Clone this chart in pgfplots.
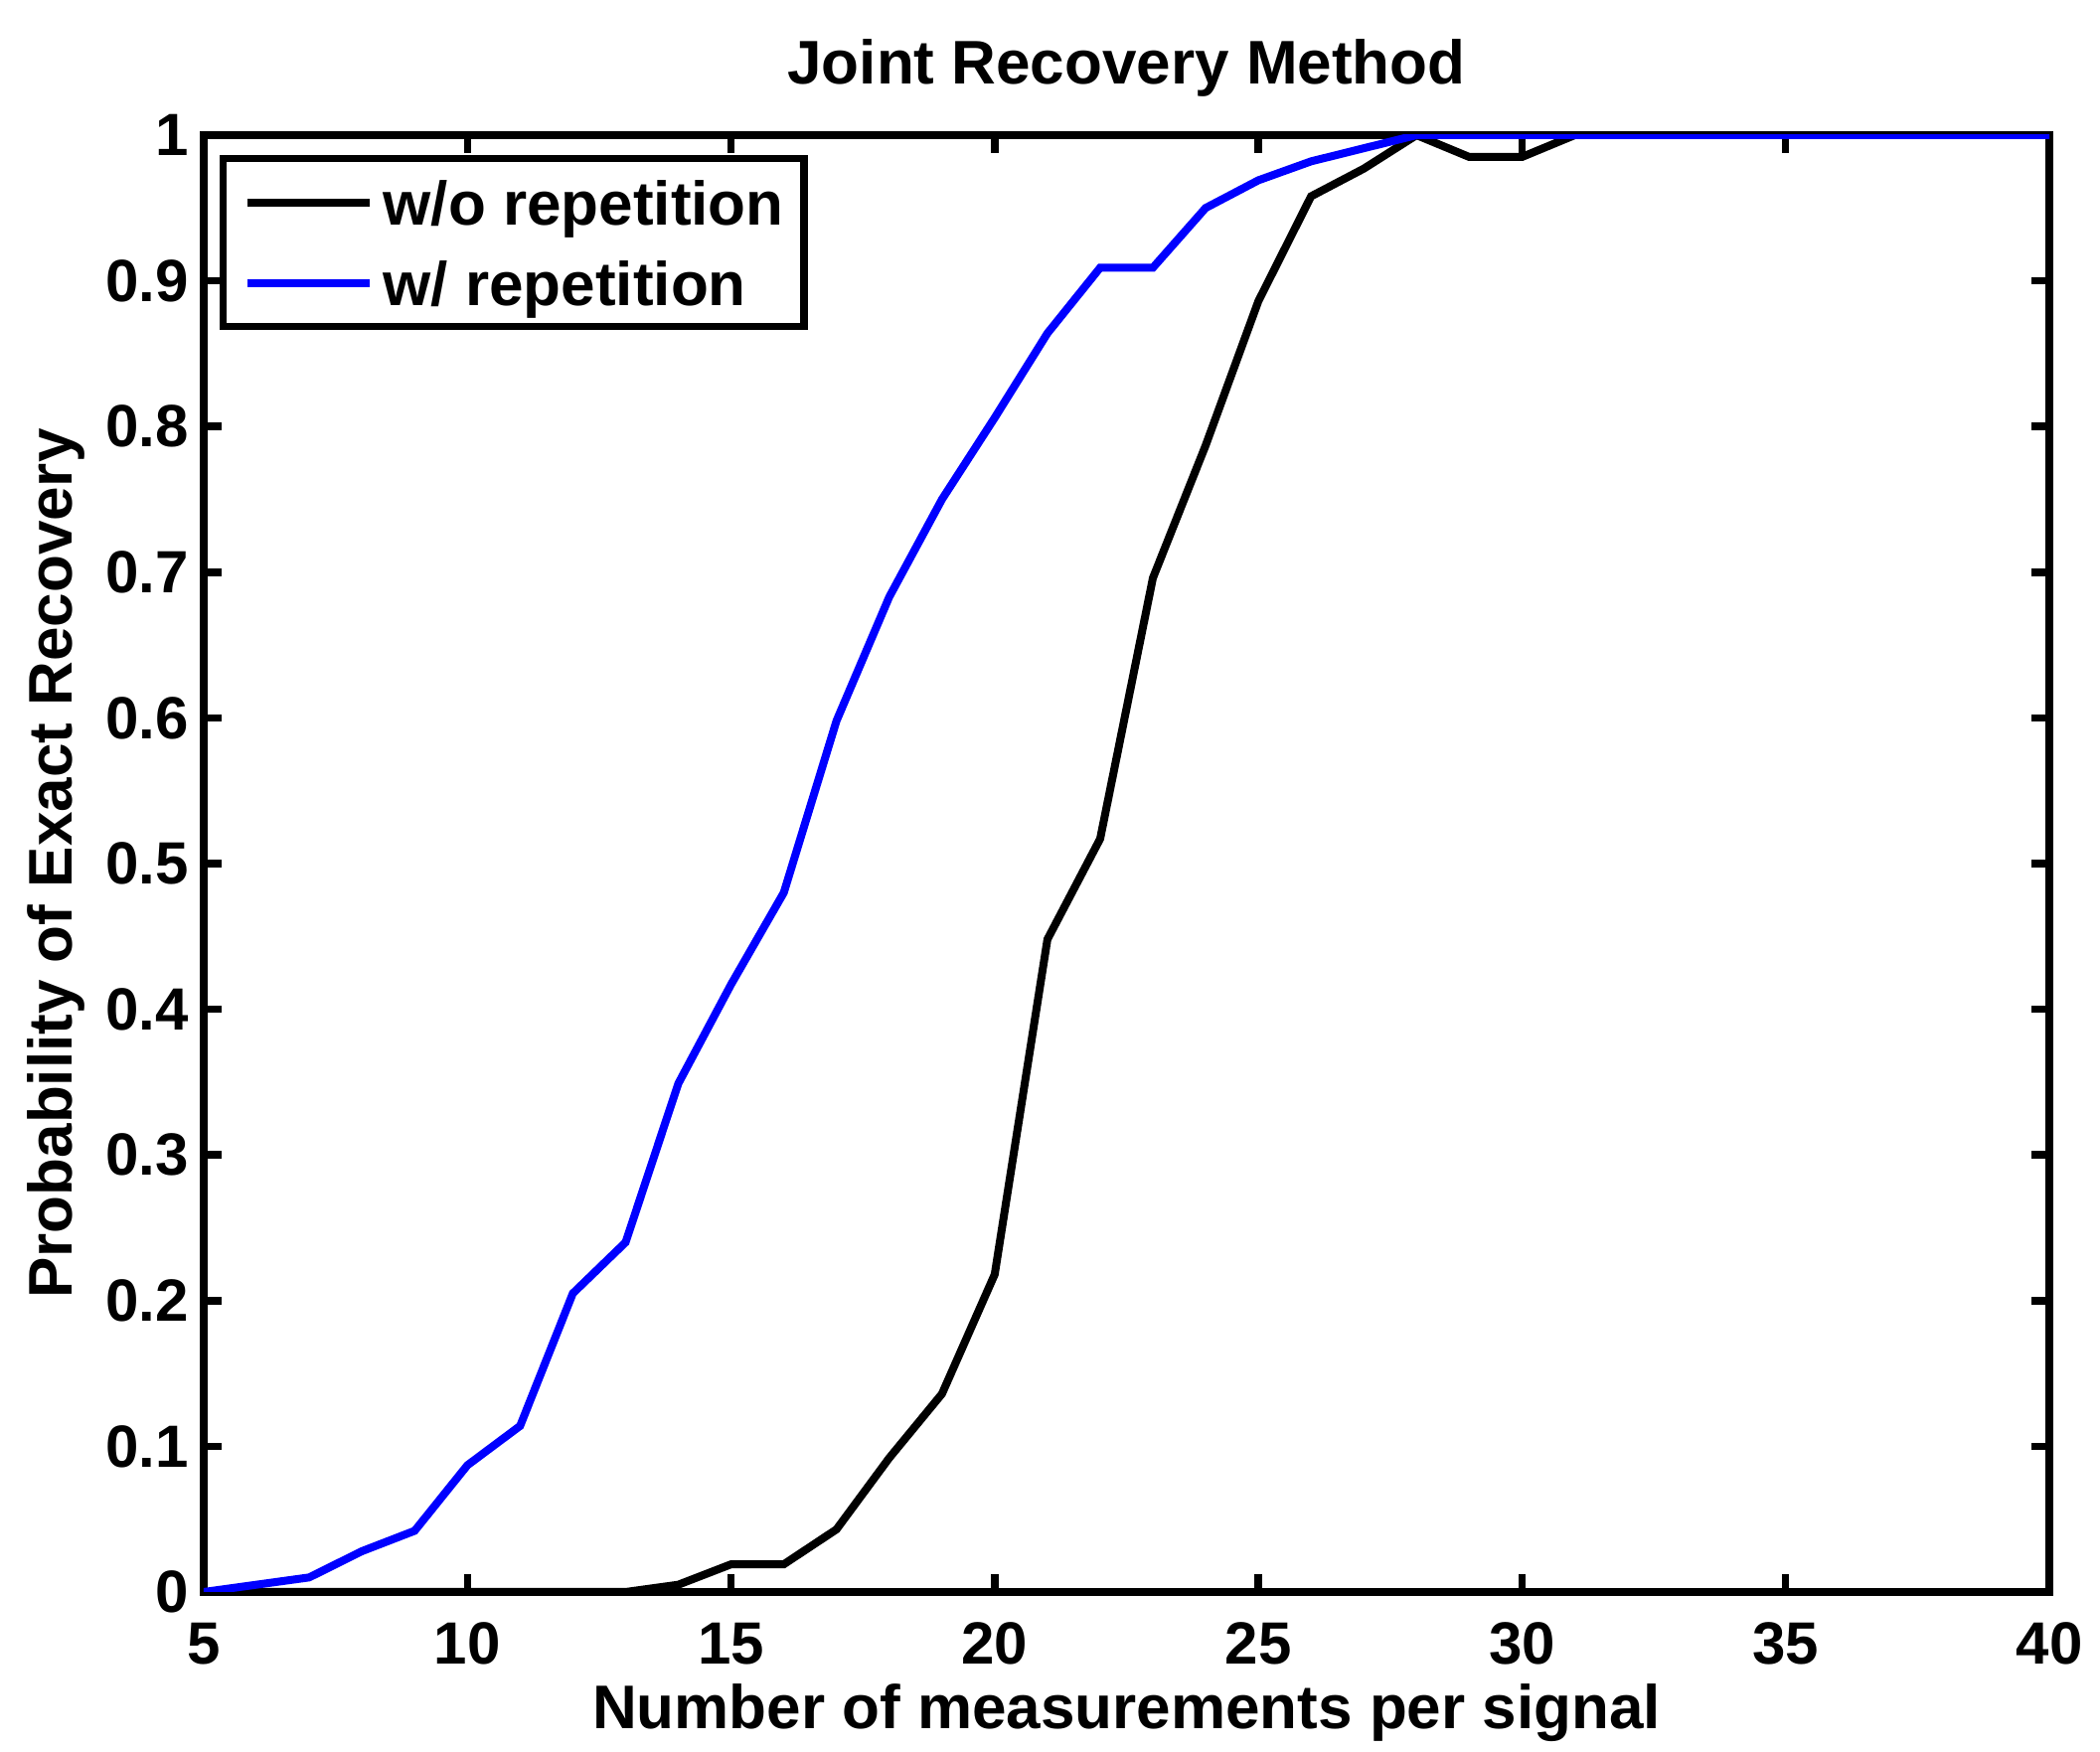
\documentclass[border=0pt]{standalone}
\usepackage{fontspec}
\setmainfont{Liberation Sans}
\usepackage{pgfplots}
\pgfplotsset{compat=1.18}
\begin{document}
\begin{tikzpicture}
\path[use as bounding box] (-41pt,-32.2pt) rectangle (381.6pt,320.4pt);
\begin{axis}[
  at={(0,0)}, anchor=south west,
  scale only axis, width=371.4pt, height=293.2pt,
  xmin=5, xmax=40, ymin=0, ymax=1,
  xtick={5,10,...,40},
  ytick={0,0.1,...,1},
  font=\fontsize{12.4}{14}\selectfont\bfseries,
  tick label style={font=\fontsize{12}{14}\selectfont\bfseries},
  /pgf/number format/assume math mode=true,
  axis line style={line width=1.6pt},
  tick style={line width=1.5pt, black},
  major tick length=3.6pt,
  tick align=inside,
  xticklabel style={anchor=base, yshift=-14.6pt},
  yticklabel style={anchor=east, inner xsep=0pt, xshift=-2.8pt},
  title={Joint Recovery Method},
  title style={at={(axis description cs:0.5,1)}, anchor=base, yshift=4.2pt},
  xlabel={Number of measurements per signal},
  xlabel style={at={(axis description cs:0.5,0)}, anchor=base, yshift=-27.6pt},
  ylabel={Probability of Exact Recovery},
  ylabel style={at={([xshift=-26.4pt]axis description cs:0,0.5)}, anchor=base},
  legend style={at={([xshift=3.2pt,yshift=-4pt]axis description cs:0,1)}, anchor=north west,
    draw=black, line width=1.5pt, inner xsep=4pt, inner ysep=1pt, row sep=0.6pt,
    column sep=2pt,
    nodes={inner sep=0pt, text height=12.4pt, text depth=3.2pt},
    font=\fontsize{12.4}{14}\selectfont\bfseries},
  legend cell align=left,
  legend image code/.code={\draw[#1] (0pt,0pt) -- (24.6pt,0pt);},
]
\addplot[black, line width=1.6pt] coordinates {
(5,0)(6,0)(7,0)(8,0)(9,0)(10,0)(11,0)(12,0)(13,0)(14,0.005)(15,0.019)(16,0.019)
(17,0.043)(18,0.092)(19,0.136)(20,0.218)(21,0.448)(22,0.517)(23,0.696)(24,0.787)
(25,0.886)(26,0.958)(27,0.977)(28,1.0)(29,0.985)(30,0.985)(31,1.0)(32,1)(33,1)(34,1)
(35,1)(36,1)(37,1)(38,1)(39,1)(40,1)};
\addlegendentry{w/o repetition}
\addplot[blue, line width=1.6pt] coordinates {
(5,0)(6,0.005)(7,0.010)(8,0.028)(9,0.042)(10,0.087)(11,0.114)(12,0.205)(13,0.240)
(14,0.349)(15,0.417)(16,0.480)(17,0.598)(18,0.683)(19,0.750)(20,0.806)(21,0.864)
(22,0.909)(23,0.909)(24,0.950)(25,0.969)(26,0.982)(27,0.991)(28,1)(29,1)(30,1)(31,1)
(32,1)(33,1)(34,1)(35,1)(36,1)(37,1)(38,1)(39,1)(40,1)};
\addlegendentry{w/ repetition}
\end{axis}
\end{tikzpicture}
\end{document}
